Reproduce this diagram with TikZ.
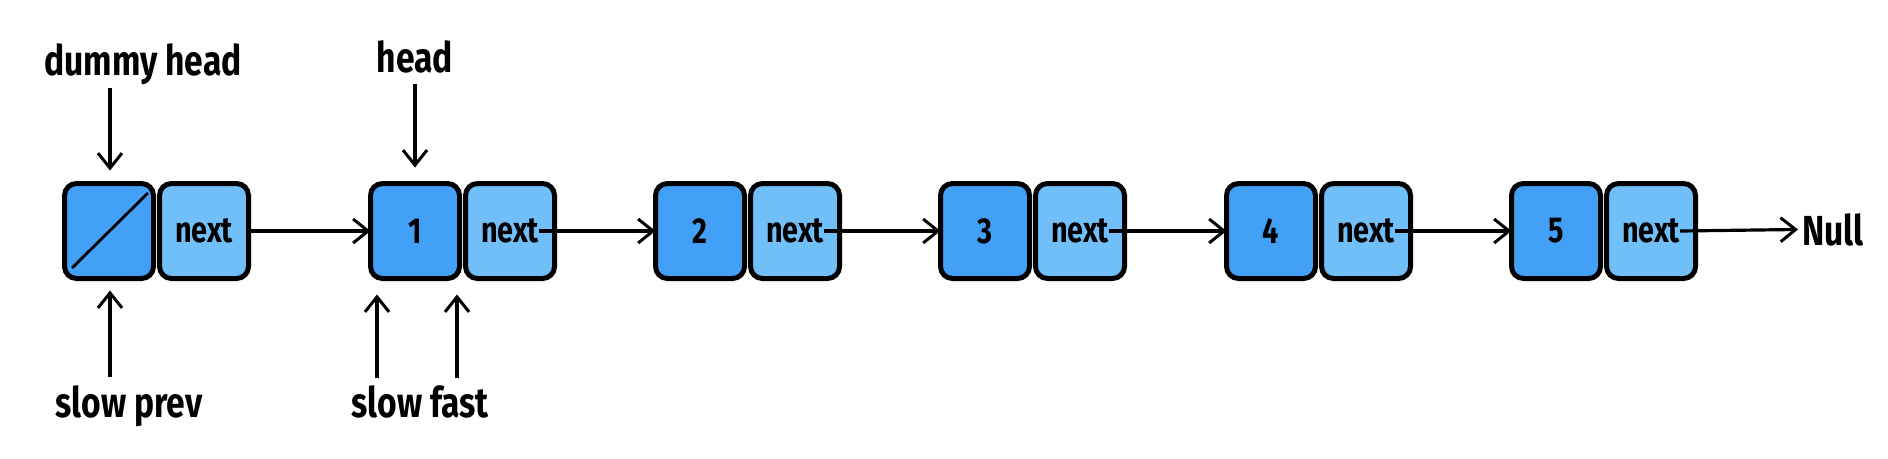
\documentclass[tikz,border=0pt]{standalone}
\usepackage{fontspec}
\setmainfont{Fira Sans}[FakeStretch=0.8]
\usetikzlibrary{arrows.meta,calc}
\definecolor{valblue}{HTML}{43A0F7}
\definecolor{nxtblue}{HTML}{70BFF9}
\begin{document}
\begin{tikzpicture}[x=1pt,y=-1pt,
  cell/.style={draw=black,line width=5pt,rounded corners=12pt,minimum width=89pt,minimum height=95pt,inner sep=0pt,outer sep=0pt},
  valcell/.style={cell,fill=valblue,font=\fontsize{36}{40}\selectfont\bfseries},
  nextcell/.style={cell,fill=nxtblue},
  celltext/.style={font=\fontsize{36}{40}\selectfont\bfseries,inner sep=0pt},
  lbl/.style={font=\fontsize{42}{48}\selectfont\bfseries,inner sep=0pt,anchor=base},
  link/.style={-{Straight Barb[length=15pt,width=24pt,line width=3pt]},line width=3.2pt},
]
\fill[white] (0,0) rectangle (1888,458);
\useasboundingbox (0,0) rectangle (1888,458);

% dummy node
\node[valcell] (v0) at (109,231) {};
\node[nextcell] (n0) at (204,231) {};
\node[celltext] (t0) at (n0) {next};
\draw[line width=2.8pt] ($(v0.center)+(-37,37)$) -- ($(v0.center)+(39,-38)$);

% list nodes
\foreach \i/\x/\v in {1/415/1,2/700/2,3/985/3,4/1271/4,5/1556/5}{
  \node[valcell] (v\i) at (\x,231) {\v};
  \node[nextcell] (n\i) at (\x+95,231) {};
  \node[celltext] (t\i) at (n\i) {next};
}

\node[lbl,anchor=base west] (null) at (1802,245) {Null};

% connectors
\draw[link] (n0.east) -- (v1.west);
\draw[link] (t1.east) -- (v2.west);
\draw[link] (t2.east) -- (v3.west);
\draw[link] (t3.east) -- (v4.west);
\draw[link] (t4.east) -- (v5.west);
\draw[link,shorten >=4pt] (t5.east) -- (null.west);

% labels
\node[lbl] (ldummy) at (143,75) {dummy head};
\node[lbl] (lhead) at (415,72) {head};
\node[lbl] (lslowprev) at (129,417) {slow prev};
\node[lbl] (lslowfast) at (420,417) {slow fast};

% pointer arrows
\coordinate (a0) at (110,88);
\coordinate (a1) at (415,84);
\coordinate (b0) at (110,377);
\coordinate (b1) at (377,378);
\coordinate (b2) at (457,378);
\draw[link,shorten >=13pt] (a0) -- (a0 |- v0.north);
\draw[link,shorten >=16pt] (a1) -- (a1 |- v1.north);
\draw[link,shorten >=12pt] (b0) -- (b0 |- v0.south);
\draw[link,shorten >=16pt] (b1) -- (b1 |- v1.south);
\draw[link,shorten >=16pt] (b2) -- (b2 |- v1.south);
\end{tikzpicture}
\end{document}
